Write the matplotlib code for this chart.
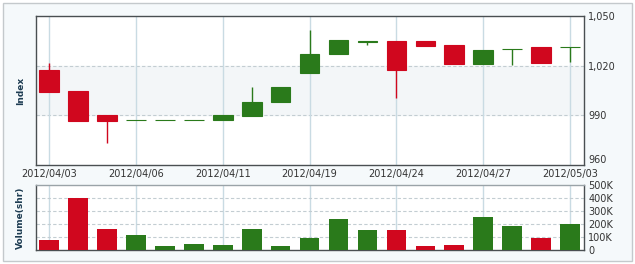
import matplotlib
matplotlib.use("Agg")
import matplotlib.pyplot as plt
from matplotlib.patches import Rectangle
import numpy as np

dates = ["2012/04/03", "2012/04/04", "2012/04/05", "2012/04/06", "2012/04/09",
         "2012/04/10", "2012/04/11", "2012/04/12", "2012/04/13", "2012/04/19",
         "2012/04/20", "2012/04/23", "2012/04/24", "2012/04/25", "2012/04/26",
         "2012/04/27", "2012/04/30", "2012/05/02", "2012/05/03"]
opens  = [1017.4, 1004.4, 990.0, 987.0, 987.0, 987.0, 987.0, 989.6, 998.3, 1015.3,
          1026.9, 1034.5, 1034.8, 1035.0, 1032.4, 1020.8, 1029.9, 1031.2, 1031.0]
highs  = [1021.6, 1004.4, 990.0, 987.0, 987.0, 987.0, 990.0, 1007.0, 1007.0, 1041.7,
          1035.4, 1035.0, 1034.8, 1035.0, 1032.4, 1029.3, 1029.9, 1031.2, 1031.0]
lows   = [1003.8, 986.7, 973.0, 987.0, 987.0, 987.0, 987.0, 989.6, 998.3, 1015.3,
          1026.9, 1032.4, 1000.3, 1031.8, 1020.8, 1020.8, 1020.6, 1021.6, 1022.0]
closes = [1003.8, 986.7, 986.5, 987.0, 987.0, 987.0, 990.0, 998.1, 1007.0, 1027.3,
          1035.4, 1035.0, 1017.6, 1031.8, 1020.8, 1029.3, 1029.9, 1021.6, 1031.0]
volumes = [75000, 400000, 164000, 115000, 31000, 46000, 38000, 164000, 31000, 95000,
           238000, 156000, 156000, 31000, 38000, 254000, 185000, 95000, 200000]
price_ticks = [960, 990, 1020, 1050]
price_tick_labels = ["960", "990", "1,020", "1,050"]
vol_ticks = [0, 100000, 200000, 300000, 400000, 500000]
vol_tick_labels = ["0", "100K", "200K", "300K", "400K", "500K"]
label_idx = [0, 3, 6, 9, 12, 15, 18]

RED = "#d0071e"
GREEN = "#2a7a1b"
FRAME = "#4a4f52"
VGRID = "#c9dbe3"
HGRID = "#c3cdd2"
TXT = "#333333"
LBL = "#1d3c52"

W, H = 635, 264
fig = plt.figure(figsize=(W / 100, H / 100), dpi=100, facecolor="white")

# outer panel
fig.patches.append(Rectangle((2.5 / W, 1 - 260.5 / H), (632 - 2.5) / W, (260.5 - 2.5) / H,
                             transform=fig.transFigure, facecolor="#f5f9fb",
                             edgecolor="#c4c9cc", linewidth=1.0, zorder=-10))

ax = fig.add_axes([36 / W, 1 - 165 / H, (584 - 36) / W, (165 - 16) / H])
axv = fig.add_axes([36 / W, 1 - 250 / H, (584 - 36) / W, (250 - 185) / H])

x = np.arange(len(dates))
colors = [GREEN if c >= o else RED for o, c in zip(opens, closes)]
bw = 0.68

# main candles
ax.axhspan(price_ticks[1], price_ticks[2], color="#f3f6f8", zorder=0)
for t in price_ticks[1:3]:
    ax.axhline(t, color=HGRID, lw=0.8, ls=(0, (3, 2)), zorder=1)
for i in label_idx:
    ax.axvline(x[i], color=VGRID, lw=1.0, zorder=1)
    axv.axvline(x[i], color=VGRID, lw=1.0, zorder=1)
ax.vlines(x, lows, highs, colors=colors, lw=1.0, zorder=2)
bottoms = [min(o, c) for o, c in zip(opens, closes)]
heights = [abs(c - o) for o, c in zip(opens, closes)]
ax.bar(x, heights, bw, bottom=bottoms, color=colors, edgecolor=colors, lw=0.8, zorder=3)

ax.set_xlim(-0.45, len(dates) - 1 + 0.48)
ax.set_ylim(960, 1050)
ax.yaxis.tick_right()
ax.set_yticks(price_ticks)
ax.set_yticklabels(price_tick_labels)
ax.set_xticks([x[i] for i in label_idx])
ax.set_xticklabels([dates[i] for i in label_idx])
ax.tick_params(axis="x", length=0, labelsize=7, colors=TXT, pad=3)
ax.tick_params(axis="y", length=0, labelsize=7, colors=TXT, pad=3)
yl = ax.get_yticklabels()
yl[0].set_verticalalignment("bottom")
ax.set_ylabel("Index", fontsize=6.5, fontweight="bold", color=LBL, labelpad=8)
for s in ax.spines.values():
    s.set_color(FRAME)
    s.set_linewidth(1.0)
ax.set_facecolor("white")

# volume
for t in vol_ticks[1:-1]:
    axv.axhline(t, color=HGRID, lw=0.8, ls=(0, (3, 2)), zorder=1)
axv.bar(x, volumes, bw, color=colors, zorder=3)
axv.set_xlim(ax.get_xlim())
axv.set_ylim(0, 500000)
axv.yaxis.tick_right()
axv.set_yticks(vol_ticks)
axv.set_yticklabels(vol_tick_labels)
axv.set_xticks([])
axv.tick_params(axis="both", length=0, labelsize=7, colors=TXT, pad=3)
axv.set_ylabel("Volume(shr)", fontsize=6.5, fontweight="bold", color=LBL, labelpad=8)
for s in axv.spines.values():
    s.set_color(FRAME)
    s.set_linewidth(1.0)
axv.spines["top"].set_color("#9aa3a8")
axv.set_facecolor("white")

fig.savefig("out.png", dpi=100, facecolor=fig.get_facecolor())
